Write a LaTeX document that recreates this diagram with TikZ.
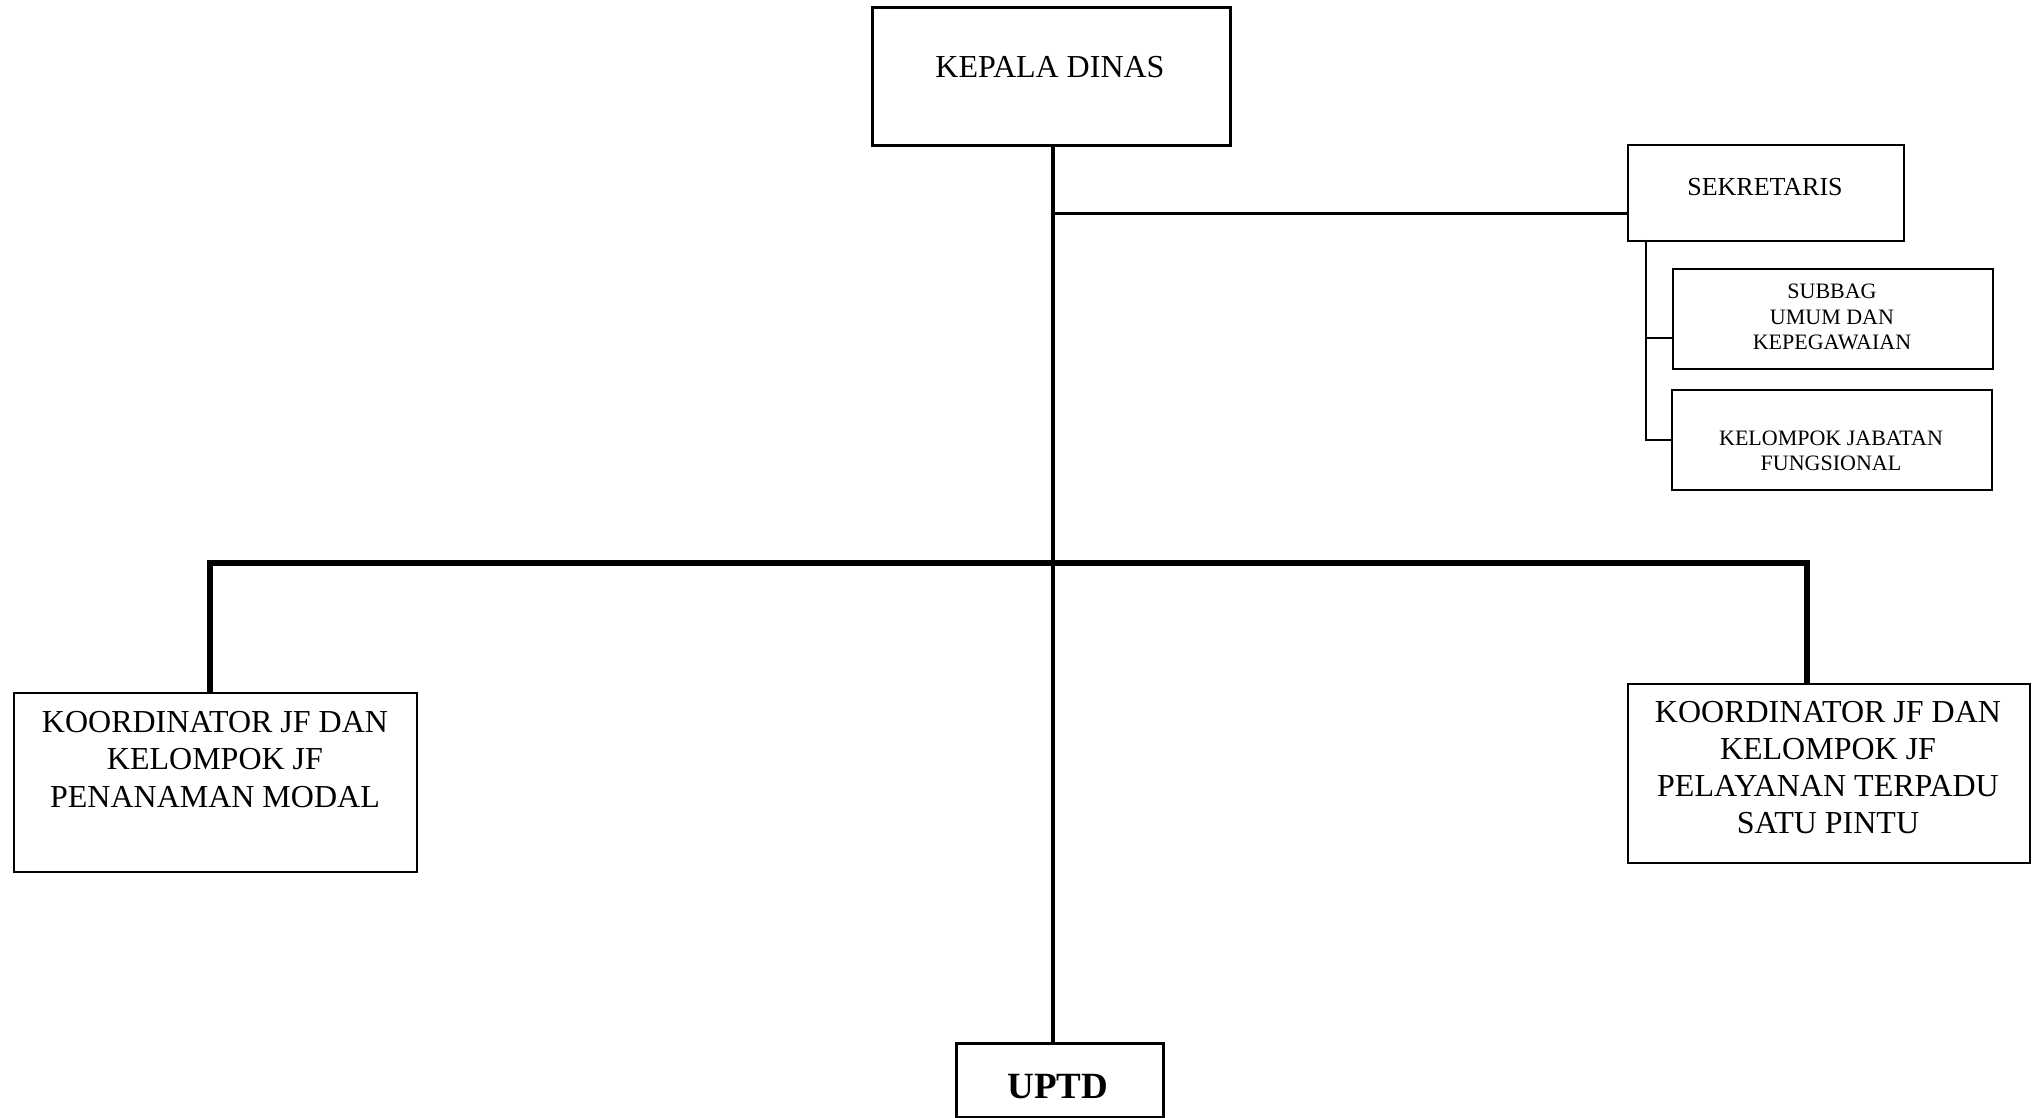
\documentclass[tikz,border=0pt]{standalone}
\usepackage{fontspec}
\setmainfont{Liberation Serif}
\usetikzlibrary{calc}

\begin{document}
\begin{tikzpicture}[x=0.5pt, y=-0.5pt,
                    box/.style={draw, shape=rectangle, anchor=north west,
                    inner sep=0pt},
                    label/.style={anchor=base, align=center, inner sep=0pt},
                    trunkline/.style={line width=2.4pt},
                    thinline/.style={line width=0.6pt}]
  \useasboundingbox (0,0) rectangle (2035,1118);
  % boxes
  \node[box, line width=1.6pt, minimum width=179pt, minimum height=69pt] (kadis) at (871,6) {};
  \node[box, line width=1pt, minimum width=138pt, minimum height=48pt] (sek) at (1627,144) {};
  \node[box, line width=1pt, minimum width=160pt, minimum height=50pt] (subbag) at (1672,268) {};
  \node[box, line width=1pt, minimum width=160pt, minimum height=50pt] (kjf) at (1671,389) {};
  \node[box, line width=0.8pt, minimum width=201.5pt, minimum height=89.5pt] (pm) at (13,692) {};
  \node[box, line width=0.8pt, minimum width=201pt, minimum height=89.5pt] (ptsp) at (1627,683) {};
  \node[box, line width=1.6pt, minimum width=103.5pt, minimum height=37pt] (uptd) at (955,1042) {};
  % texts (base = last line)
  \node[label, font=\fontsize{16}{19}\selectfont] (kadisT) at (1050,78) {KEPALA DINAS};
  \node[label, font=\fontsize{13}{15}\selectfont] (sekT) at (1765,196) {SEKRETARIS};
  \node[label, font=\fontsize{11}{12.75}\selectfont] (subbagT) at (1832,350)
    {SUBBAG\\UMUM DAN\\KEPEGAWAIAN};
  \node[label, font=\fontsize{11}{12.5}\selectfont] (kjfT) at (1831,470)
    {KELOMPOK JABATAN\\FUNGSIONAL};
  \node[label, font=\fontsize{16}{18.75}\selectfont] (pmT) at (215,807)
    {KOORDINATOR JF DAN\\KELOMPOK JF\\PENANAMAN MODAL};
  \node[label, font=\fontsize{16}{18.4}\selectfont] (ptspT) at (1828,833)
    {KOORDINATOR JF DAN\\KELOMPOK JF\\PELAYANAN TERPADU\\SATU PINTU};
  \node[label, font=\bfseries\fontsize{18.5}{22}\selectfont] (uptdT) at (1058,1098) {UPTD};
  % connectors
  \coordinate (trunk) at (1053,563);
  \coordinate (bl) at (210,563);
  \coordinate (br) at (1807,563);
  \coordinate (sekdown) at (1646,240);
  \draw[trunkline] (kadis.south -| trunk) -- (uptd.north -| trunk);
  \draw[line width=1.5pt] (trunk |- {$(sek.west)+(0,21)$}) -- ($(sek.west)+(0,21)$);
  \draw[trunkline, line width=2.6pt] (pm.north -| bl) -- (bl) -- (br) -- (ptsp.north -| br);
  \draw[thinline] (sekdown) |- (kjf.west);
  \draw[thinline] (sekdown |- {$(subbag.west)+(0,19)$}) -- ($(subbag.west)+(0,19)$);
\end{tikzpicture}
\end{document}
